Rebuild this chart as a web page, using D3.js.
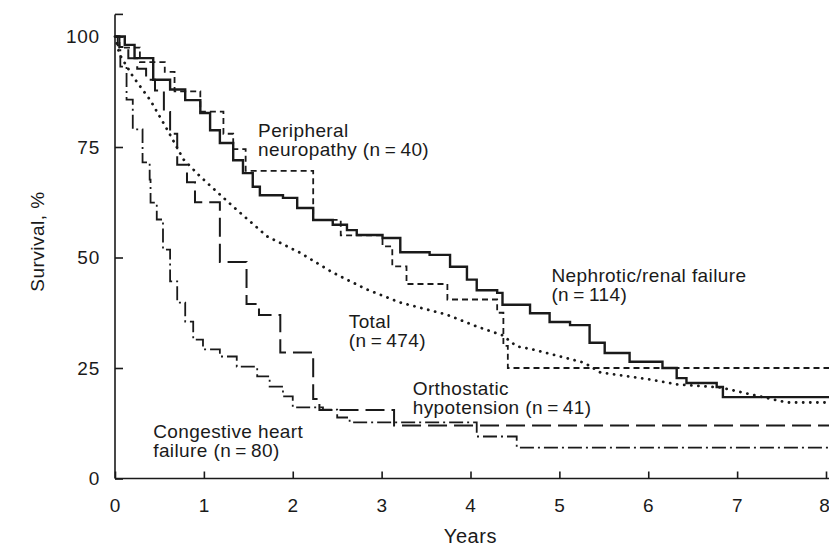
<!DOCTYPE html>
<html>
<head>
<meta charset="utf-8">
<script src="https://cdn.jsdelivr.net/npm/d3@7"></script>
<style>
  html, body { margin: 0; padding: 0; background: #fff; }
  svg { display: block; }
  text { font-family: "Liberation Sans", Arial, Helvetica, sans-serif; fill: #1a1a1a; }
</style>
</head>
<body>
<svg id="chart" width="829" height="550"></svg>
<script>
// ---- data (time in years, survival in %) ----
const xTicks = [0, 1, 2, 3, 4, 5, 6, 7, 8];
const yTicks = [0, 25, 50, 75, 100];

const neuropathy = [
  [0, 100], [0.05, 97.5], [0.28, 94.2], [0.56, 92], [0.67, 87.6], [0.96, 83],
  [1.22, 78], [1.33, 74.5], [1.47, 69.6], [2.23, 58.5], [2.54, 55], [3.01, 52.5],
  [3.12, 48], [3.28, 44], [3.74, 40.5], [4.3, 37.5], [4.37, 30], [4.42, 25], [8.05, 25]
];

const nephrotic = [
  [0, 100], [0.11, 98.1], [0.22, 95.1], [0.43, 90.2], [0.62, 88], [0.79, 85.6],
  [0.96, 82.7], [1.07, 78.8], [1.18, 75.9], [1.33, 72], [1.44, 69.1], [1.55, 66],
  [1.63, 64.1], [1.89, 63.5], [2.05, 61.2], [2.23, 58.5], [2.45, 57.4], [2.61, 56.2],
  [2.72, 55.1], [3.01, 54.4], [3.21, 51.2], [3.54, 50.6], [3.77, 47.9], [3.96, 45],
  [4.07, 42.6], [4.3, 42], [4.36, 39.3], [4.67, 37.4], [4.89, 35.4], [5.12, 34.7],
  [5.34, 30.7], [5.51, 28.4], [5.79, 26.4], [6.16, 25], [6.32, 22.7], [6.43, 21.6],
  [6.77, 20.7], [6.84, 18.4], [8.05, 18.4]
];

const total = [
  [0, 100], [0.05, 96], [0.2, 91], [0.4, 85.5], [0.6, 78.5], [0.77, 72.2],
  [0.96, 68.3], [1.33, 61.5], [1.71, 54.8], [2.08, 51.1], [2.45, 46.6], [2.83, 42.8],
  [3.21, 39.8], [3.73, 37.1], [4.07, 34.4], [4.36, 32.4], [4.52, 29.9], [4.7, 29.2],
  [5.28, 26.2], [5.46, 24], [6.02, 22.4], [6.32, 21.3], [6.81, 20.6], [7.56, 17.2],
  [8.05, 17.2]
];

const orthostatic = [
  [0, 100], [0.05, 97.6], [0.15, 95.1], [0.25, 92.7], [0.35, 90.2], [0.45, 87.8],
  [0.55, 82.9], [0.62, 78], [0.7, 71], [0.81, 67], [0.9, 62.5], [1.18, 49],
  [1.48, 39.5], [1.62, 37], [1.86, 28.5], [2.23, 18], [2.3, 15.5], [3.14, 12], [8.05, 12]
];

const heartFailure = [
  [0, 100], [0.03, 98], [0.06, 93.2], [0.13, 85.7], [0.2, 79], [0.31, 71.5],
  [0.39, 67.6], [0.4, 62.4], [0.47, 58.6], [0.54, 51.8], [0.62, 44.6], [0.7, 39.8],
  [0.79, 35.5], [0.88, 31.4], [0.99, 29.2], [1.18, 27.6], [1.37, 25.3], [1.6, 23.1],
  [1.74, 20.8], [1.89, 18.6], [2.0, 16.1], [2.34, 15.6], [2.5, 13.8], [2.64, 12.7],
  [4.07, 9.5], [4.52, 7], [8.05, 7]
];

// ---- chart ----
const svg = d3.select("#chart");
const x = d3.scaleLinear().domain([0, 8]).range([115, 826]);
const y = d3.scaleLinear().domain([0, 100]).range([478.5, 36.5]);
const ink = "#1a1a1a";

const series = [
  { data: nephrotic,   curve: d3.curveStepAfter, width: 2.4, dash: null, cap: "butt" },
  { data: neuropathy,  curve: d3.curveStepAfter, width: 1.8, dash: "6,4", cap: "butt" },
  { data: total,       curve: d3.curveLinear,    width: 2.8, dash: "0.1,7", cap: "round" },
  { data: orthostatic, curve: d3.curveStepAfter, width: 2.0, dash: "19,7", cap: "butt" },
  { data: heartFailure,curve: d3.curveStepAfter, width: 1.8, dash: "14,4,2,4", cap: "butt" }
];

series.forEach(s => {
  const line = d3.line().x(d => x(d[0])).y(d => y(d[1])).curve(s.curve);
  svg.append("path")
    .datum(s.data)
    .attr("d", line)
    .attr("fill", "none")
    .attr("stroke", ink)
    .attr("stroke-width", s.width)
    .attr("stroke-linecap", s.cap)
    .attr("stroke-dasharray", s.dash);
});

// axes
const yAxis = d3.axisLeft(y).tickValues(yTicks).tickSizeInner(-8).tickSizeOuter(0).tickPadding(15);
const gy = svg.append("g").attr("transform", `translate(${x(0)},0)`).call(yAxis);
gy.select(".domain").remove();

const xAxis = d3.axisBottom(x).tickValues(xTicks).tickSizeInner(-7).tickSizeOuter(0).tickPadding(20);
const gx = svg.append("g").attr("transform", `translate(0,${y(0)})`).call(xAxis);
gx.select(".domain").remove();

[gx, gy].forEach(g => {
  g.selectAll(".tick line").attr("stroke", ink).attr("stroke-width", 1.6);
  g.selectAll(".tick text")
    .style("font-size", "19px")
    .style("letter-spacing", "0.8px")
    .attr("fill", ink);
});
// last x label sits at the right edge: keep it inside the picture
gx.selectAll(".tick text").filter(d => d === 8).attr("text-anchor", "end").attr("dx", 4);

// axis lines (y extends above 100 with a small top tick)
svg.append("line").attr("x1", x(0)).attr("x2", x(0)).attr("y1", y(0)).attr("y2", y(105))
  .attr("stroke", ink).attr("stroke-width", 1.6);
svg.append("line").attr("x1", x(0)).attr("x2", x(0) + 8).attr("y1", y(105)).attr("y2", y(105))
  .attr("stroke", ink).attr("stroke-width", 1.6);
svg.append("line").attr("x1", x(0)).attr("x2", 829).attr("y1", y(0)).attr("y2", y(0))
  .attr("stroke", ink).attr("stroke-width", 1.6);

// axis titles
svg.append("text")
  .attr("transform", `translate(44,${y(50) - 16}) rotate(-90)`)
  .attr("text-anchor", "middle")
  .style("font-size", "19px").style("letter-spacing", "0.5px")
  .text("Survival, %");
svg.append("text")
  .attr("x", x(4)).attr("y", 543)
  .attr("text-anchor", "middle")
  .style("font-size", "20px").style("letter-spacing", "0.6px")
  .text("Years");

// curve labels
const labels = [
  { lines: ["Peripheral", "neuropathy (n\u2009=\u200940)"], t: 1.61, v: 77.3 },
  { lines: ["Nephrotic/renal failure", "(n\u2009=\u2009114)"], t: 4.91, v: 44.5 },
  { lines: ["Total", "(n\u2009=\u2009474)"], t: 2.63, v: 34.0 },
  { lines: ["Orthostatic", "hypotension (n\u2009=\u200941)"], t: 3.35, v: 18.9 },
  { lines: ["Congestive heart", "failure (n\u2009=\u200980)"], t: 0.43, v: 9.1 }
];
labels.forEach(l => {
  const t = svg.append("text")
    .attr("x", x(l.t)).attr("y", y(l.v))
    .style("font-size", "19px").style("letter-spacing", "0.4px");
  l.lines.forEach((ln, i) => {
    t.append("tspan").attr("x", x(l.t)).attr("dy", i === 0 ? 0 : 19).text(ln);
  });
});
</script>
</body>
</html>
